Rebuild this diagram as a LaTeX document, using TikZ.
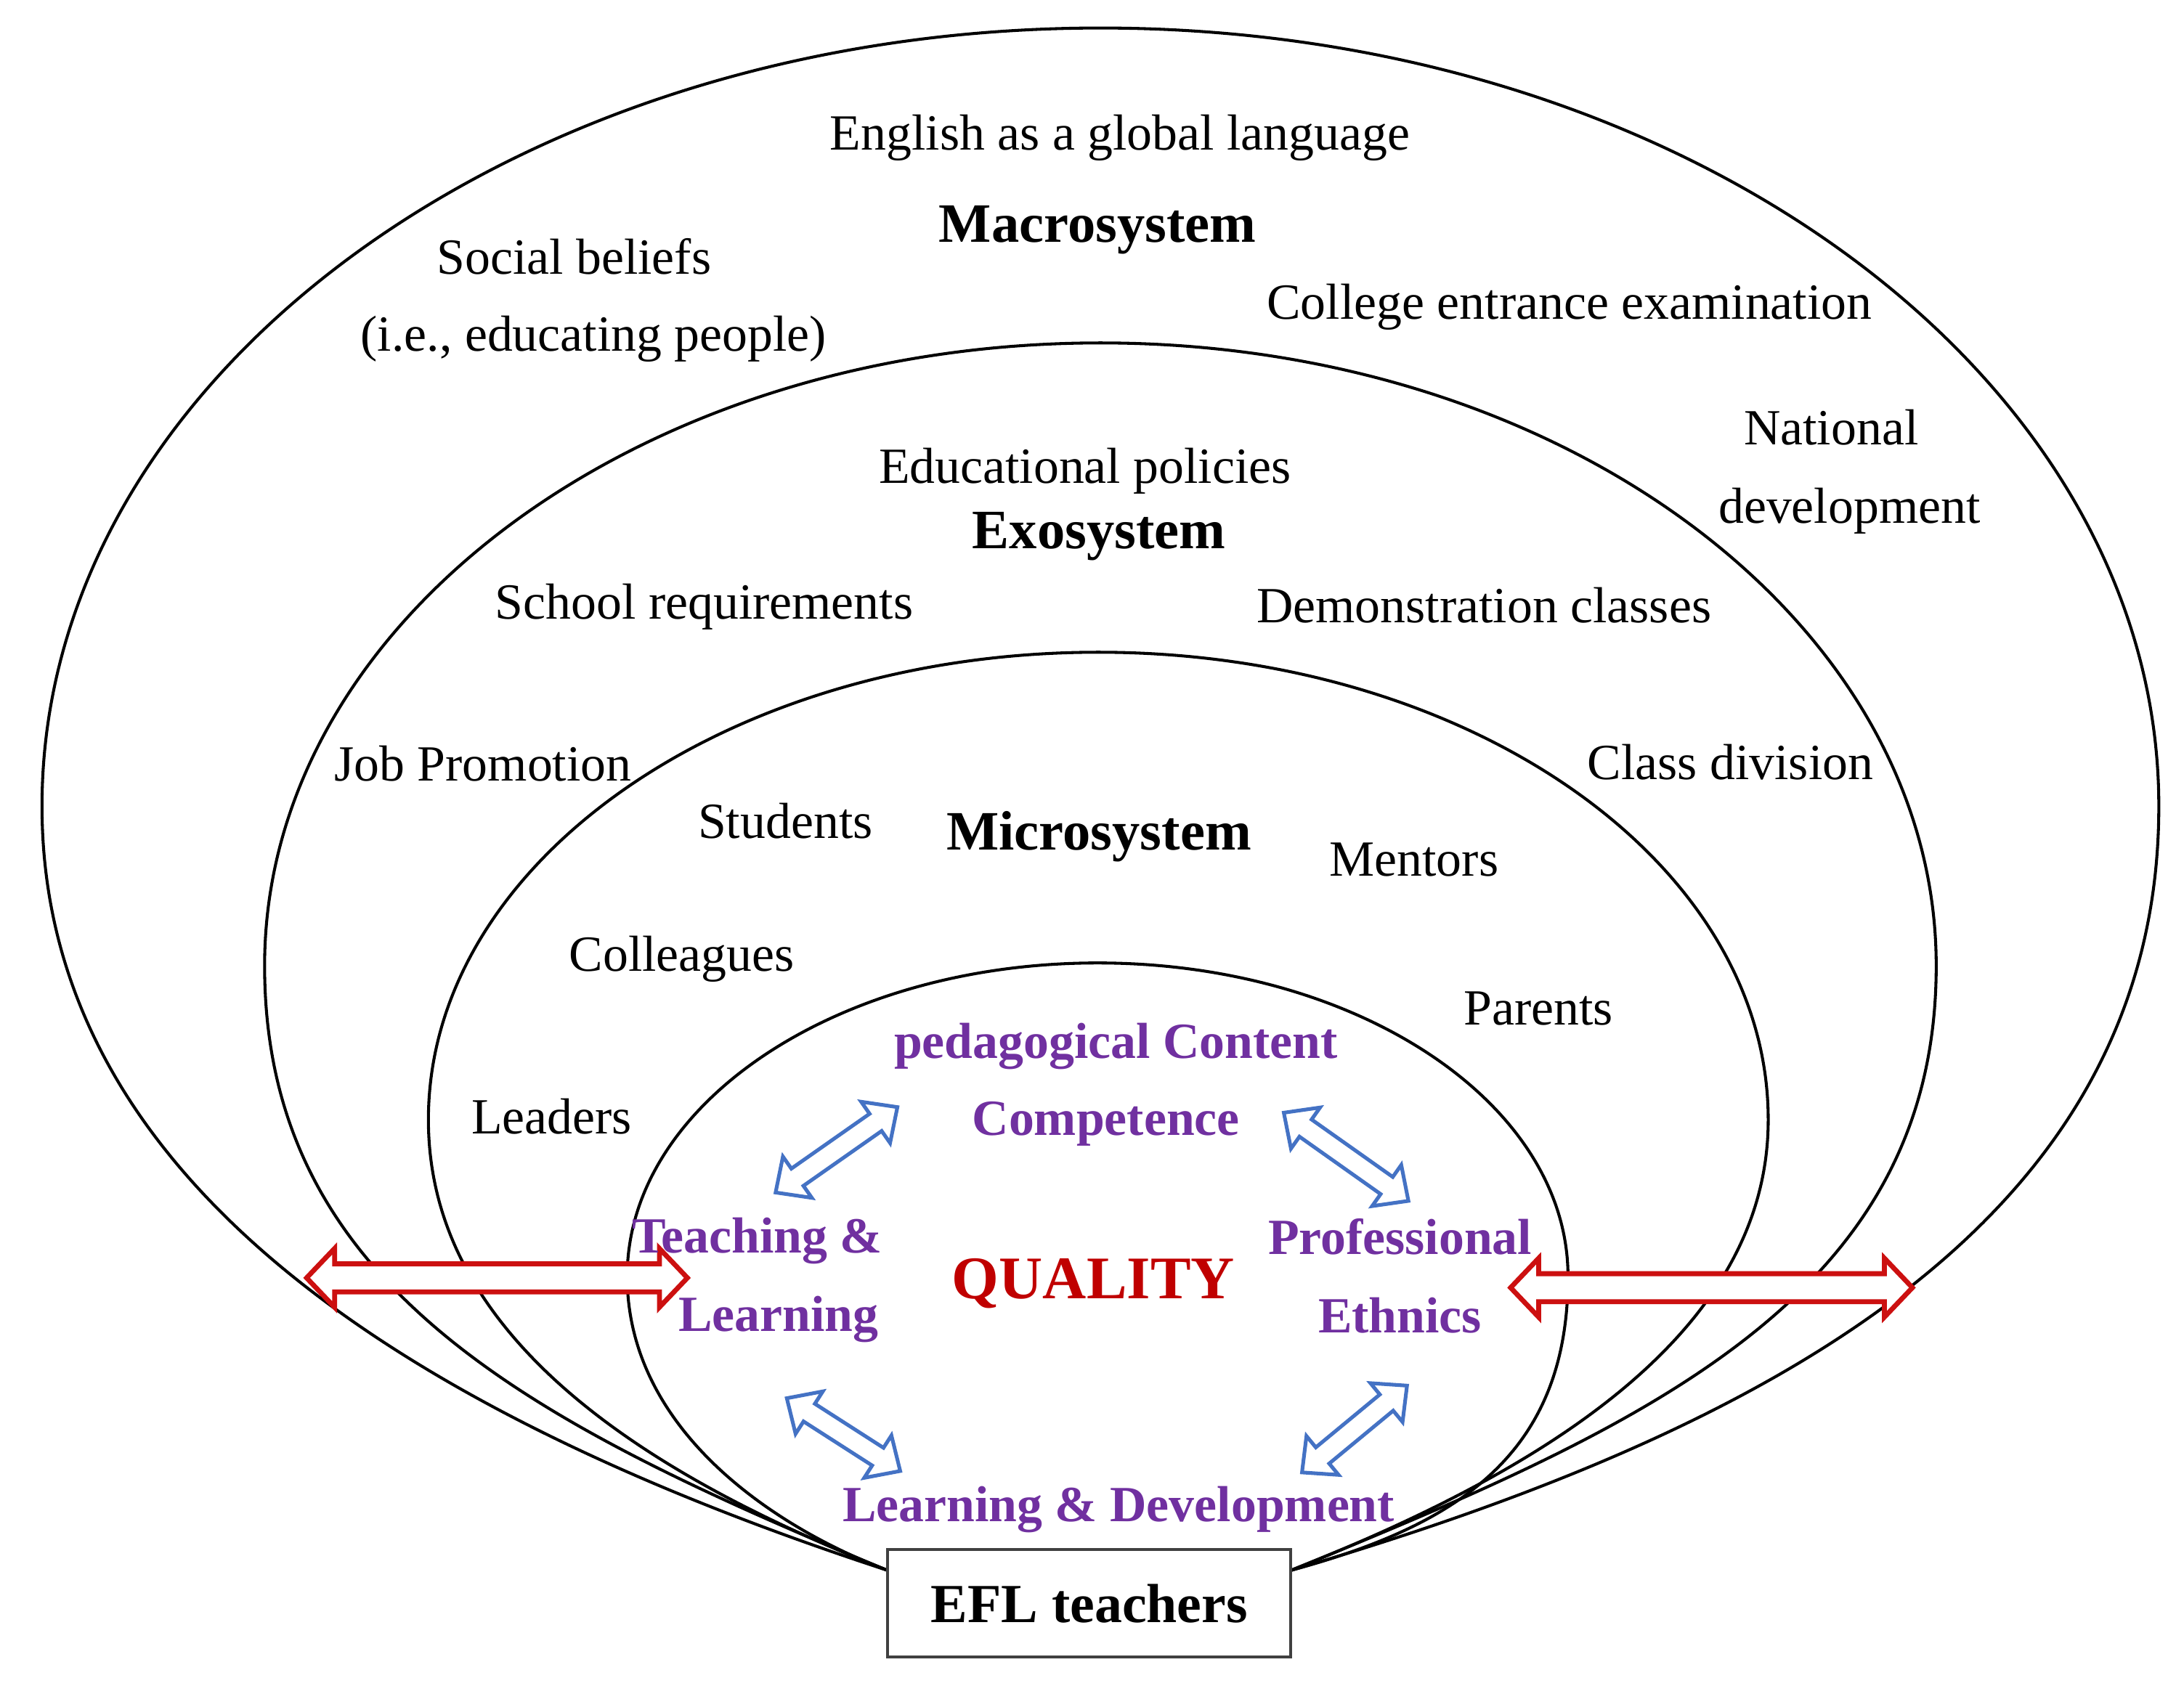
\documentclass[tikz,border=0pt]{standalone}
\usepackage{fontspec}
\setmainfont{Liberation Serif}
\usetikzlibrary{calc}
\definecolor{pur}{HTML}{7030A0}
\definecolor{qred}{HTML}{C00000}
\definecolor{rarr}{HTML}{CC1010}
\definecolor{ablue}{HTML}{4472C4}
\newcommand{\hollowarrow}[6]{%
  \draw[#1] (#2) -- ($(#2)!#4!(#3)!#6!90:(#3)$) -- ($(#2)!#4!(#3)!#5!90:(#3)$)
   -- ($(#3)!#4!(#2)!#5!-90:(#2)$) -- ($(#3)!#4!(#2)!#6!-90:(#2)$) -- (#3)
   -- ($(#3)!#4!(#2)!#6!90:(#2)$) -- ($(#3)!#4!(#2)!#5!90:(#2)$)
   -- ($(#2)!#4!(#3)!#5!-90:(#3)$) -- ($(#2)!#4!(#3)!#6!-90:(#3)$) -- cycle;}
\tikzset{
  ring/.style={draw=black, line width=0.6pt},
  lbl/.style={inner sep=0pt, anchor=base, font=\fontsize{10.3pt}{12pt}\selectfont},
  sysname/.style={lbl, font=\fontsize{11.3pt}{13pt}\selectfont\bfseries},
  comp/.style={lbl, text=pur, font=\fontsize{10.3pt}{12pt}\selectfont\bfseries},
  qual/.style={lbl, text=qred, font=\fontsize{12.3pt}{14pt}\selectfont\bfseries},
  redarrow/.style={draw=rarr, fill=white, line width=1pt, line join=miter},
  bluearrow/.style={draw=ablue, line width=0.75pt, line join=miter},
  eflbox/.style={draw=black!75, fill=white, line width=0.6pt, minimum width=28.8mm,
    minimum height=7.7mm, inner sep=0pt, font=\fontsize{11.2pt}{13pt}\selectfont\bfseries}
}
\begin{document}
\begin{tikzpicture}[x=0.1mm, y=-0.1mm]
\useasboundingbox (0,0) rectangle (1560,1204.5);

% convergence points at the EFL box
\coordinate (cl) at (634,1122);
\coordinate (cr) at (922,1122);

% Macrosystem
\draw[ring] (cl) .. controls (304,1014) and (30,850) .. (30,576)
  .. controls (30,269) and (368.5,20) .. (786,20)
  .. controls (1203.5,20) and (1542,269) .. (1542,576)
  .. controls (1542,870) and (1270,1020) .. (cr);
% Exosystem
\draw[ring] (cl) .. controls (380,1017) and (189,920) .. (189,690)
  .. controls (189,444.2) and (456.3,245) .. (786,245)
  .. controls (1115.7,245) and (1383,444.2) .. (1383,690)
  .. controls (1383,925) and (1180,1017) .. (cr);
% Microsystem
\draw[ring] (cl) .. controls (470,1057) and (306,960) .. (306,800)
  .. controls (306,615.5) and (520.2,466) .. (784.5,466)
  .. controls (1048.8,466) and (1263,615.5) .. (1263,800)
  .. controls (1263,960) and (1086,1057) .. (cr);
% Inner
\draw[ring] (cl) .. controls (550,1090) and (448,1020) .. (448,912)
  .. controls (448,788.3) and (598.4,688) .. (784,688)
  .. controls (969.6,688) and (1120,788.3) .. (1120,912)
  .. controls (1120,1040) and (1040,1090) .. (cr);

\node[eflbox] (efl) at (778,1145.5) {EFL teachers};

% red double arrows
\coordinate (rl1) at (219,913);
\coordinate (rl2) at (491,913);
\coordinate (rr1) at (1079,920);
\coordinate (rr2) at (1366,920);
\hollowarrow{redarrow}{rl1}{rl2}{2mm}{1mm}{2.1mm}
\hollowarrow{redarrow}{rr1}{rr2}{2mm}{1mm}{2.1mm}

% blue double arrows
\coordinate (b1a) at (554,852);
\coordinate (b1b) at (641,791);
\coordinate (b2a) at (917,795);
\coordinate (b2b) at (1006,858);
\coordinate (b3a) at (562,999);
\coordinate (b3b) at (643,1051);
\coordinate (b4a) at (930,1052);
\coordinate (b4b) at (1005,990);
\hollowarrow{bluearrow}{b1a}{b1b}{1.9mm}{0.75mm}{1.8mm}
\hollowarrow{bluearrow}{b2a}{b2b}{1.9mm}{0.75mm}{1.8mm}
\hollowarrow{bluearrow}{b3a}{b3b}{1.9mm}{0.75mm}{1.8mm}
\hollowarrow{bluearrow}{b4a}{b4b}{1.9mm}{0.75mm}{1.8mm}

% Macrosystem texts
\node[lbl] (eng) at (800,107) {English as a global language};
\node[sysname] (macro) at (784,173) {Macrosystem};
\node[lbl] (soc1) at (410,196) {Social beliefs};
\node[lbl] (soc2) at (424,251) {(i.e., educating people)};
\node[lbl] (cee) at (1121,228) {College entrance examination};
\node[lbl] (nat1) at (1308,318) {National};
\node[lbl] (nat2) at (1321,374) {development};
% Exosystem texts
\node[lbl] (edu) at (775,345) {Educational policies};
\node[sysname] (exo) at (785,392) {Exosystem};
\node[lbl] (sch) at (503,442) {School requirements};
\node[lbl] (demo) at (1060,445) {Demonstration classes};
\node[lbl] (job) at (345,558) {Job Promotion};
\node[lbl] (cls) at (1236,557) {Class division};
% Microsystem texts
\node[lbl] (stu) at (561,599) {Students};
\node[sysname] (micro) at (785,607) {Microsystem};
\node[lbl] (men) at (1010,626) {Mentors};
\node[lbl] (coll) at (487,694) {Colleagues};
\node[lbl] (par) at (1099,732) {Parents};
\node[lbl] (lead) at (394,810) {Leaders};
% Inner texts
\node[comp] (ped) at (797,756) {pedagogical Content};
\node[comp] (cmp) at (790,811) {Competence};
\node[comp] (teach) at (541,895) {Teaching \&};
\node[comp] (learn) at (556,951) {Learning};
\node[qual] (quality) at (781,928) {QUALITY};
\node[comp] (prof) at (1000,896) {Professional};
\node[comp] (eth) at (1000,952) {Ethnics};
\node[comp] (ld) at (799,1087) {Learning \& Development};
\end{tikzpicture}
\end{document}
